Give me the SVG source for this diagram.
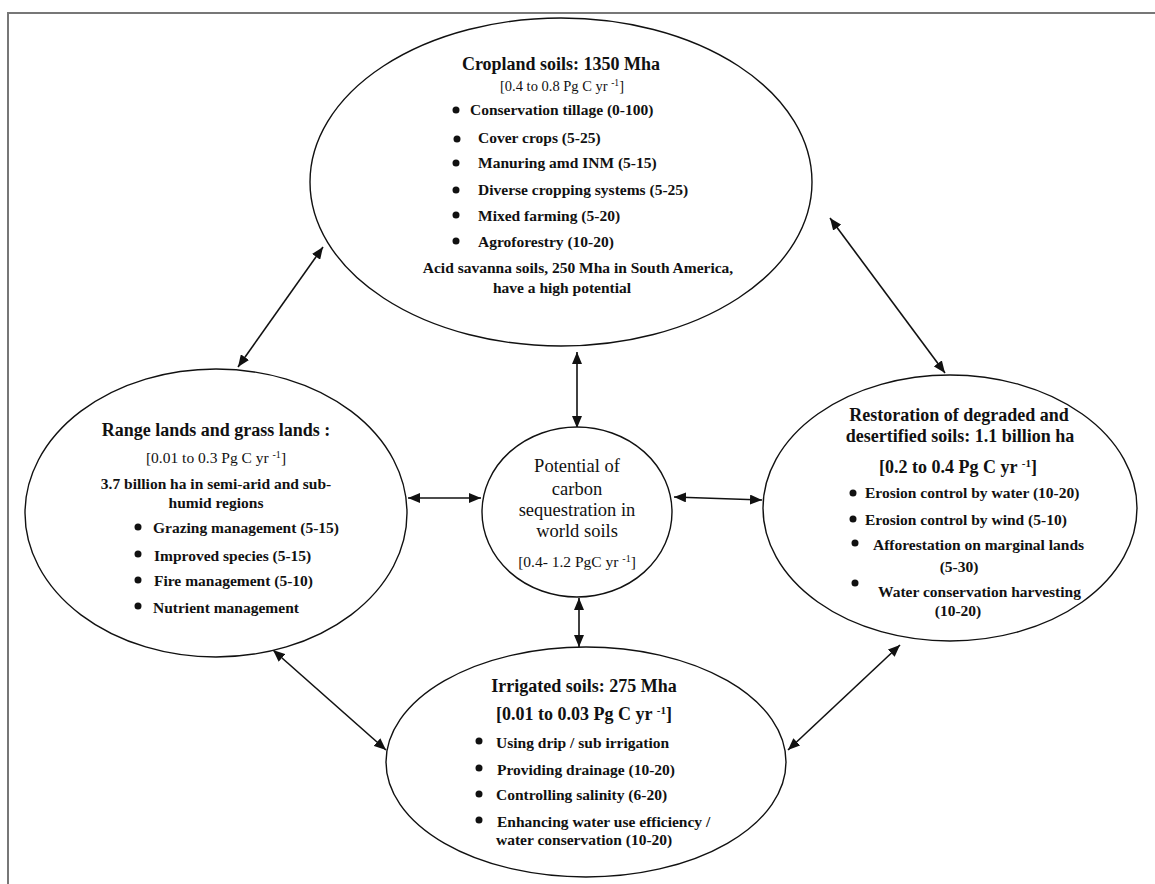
<svg xmlns="http://www.w3.org/2000/svg" width="1155" height="884" viewBox="0 0 1155 884">
<style>
.node{fill:#fff;stroke:#111;stroke-width:1.4}
.t{font-family:"Liberation Serif","Times New Roman",serif;fill:#111}
.b{font-weight:bold}
.h{font-size:18px;font-weight:bold}
.s{font-size:15.5px}
.c{text-anchor:middle}
.conn{stroke:#111;stroke-width:1.6;fill:none;marker-start:url(#ah);marker-end:url(#ah)}
.dot{fill:#111}
</style>
<defs>
<marker id="ah" viewBox="0 0 12 10" refX="12" refY="5" markerWidth="12" markerHeight="10" markerUnits="userSpaceOnUse" orient="auto-start-reverse">
<path d="M0,0 L12,5 L0,10 z" fill="#111"/>
</marker>
</defs>
<rect width="1155" height="884" fill="#fff"/>
<g id="frame" stroke="#777" stroke-width="2" fill="none">
<path d="M8,884 L8,13 L1155,13"/>
</g>

<g id="connectors">
<line class="conn" x1="323" y1="247" x2="238" y2="367"/>
<line class="conn" x1="830" y1="218" x2="945" y2="373"/>
<line class="conn" x1="577" y1="352" x2="577" y2="428"/>
<line class="conn" x1="408" y1="498" x2="481" y2="498"/>
<line class="conn" x1="674" y1="497" x2="762" y2="500"/>
<line class="conn" x1="579" y1="598" x2="579" y2="647"/>
<line class="conn" x1="273" y1="650" x2="386" y2="750"/>
<line class="conn" x1="788" y1="750" x2="900" y2="645"/>
</g>

<g id="cropland">
<ellipse class="node" cx="561" cy="182" rx="251" ry="164"/>
<text class="t h c" x="561" y="70">Cropland soils: 1350 Mha</text>
<text class="t c" font-size="14.5" x="562" y="91">[0.4 to 0.8 Pg C yr <tspan font-size="9.5" dy="-5">-1</tspan><tspan dy="5">]</tspan></text>
<g class="dot">
<circle cx="456" cy="110" r="3.5"/>
<circle cx="457" cy="139" r="3.5"/>
<circle cx="456" cy="163" r="3.5"/>
<circle cx="456" cy="190" r="3.5"/>
<circle cx="456" cy="215" r="3.5"/>
<circle cx="456" cy="241" r="3.5"/>
</g>
<text class="t s b" x="470" y="115">Conservation tillage (0-100)</text>
<text class="t s b" x="478" y="143">Cover crops (5-25)</text>
<text class="t s b" x="478" y="168">Manuring amd INM (5-15)</text>
<text class="t s b" x="478" y="195">Diverse cropping systems (5-25)</text>
<text class="t s b" x="478" y="221">Mixed farming (5-20)</text>
<text class="t s b" x="478" y="247">Agroforestry (10-20)</text>
<text class="t s b c" x="578" y="273">Acid savanna soils, 250 Mha in South America,</text>
<text class="t s b c" x="562" y="293">have a high potential</text>
</g>

<g id="rangelands">
<ellipse class="node" cx="216" cy="513" rx="191" ry="144"/>
<text class="t h c" x="216" y="436">Range lands and grass lands :</text>
<text class="t s c" x="216" y="463">[0.01 to 0.3 Pg C yr <tspan font-size="10" dy="-5">-1</tspan><tspan dy="5">]</tspan></text>
<text class="t s b c" x="216" y="489">3.7 billion ha in semi-arid and sub-</text>
<text class="t s b c" x="216" y="508">humid regions</text>
<g class="dot">
<circle cx="138" cy="527" r="3.5"/>
<circle cx="138" cy="554" r="3.5"/>
<circle cx="138" cy="580" r="3.5"/>
<circle cx="138" cy="606" r="3.5"/>
</g>
<text class="t s b" x="153" y="533">Grazing management (5-15)</text>
<text class="t s b" x="154" y="561">Improved species (5-15)</text>
<text class="t s b" x="154" y="586">Fire management (5-10)</text>
<text class="t s b" x="153" y="613">Nutrient management</text>
</g>

<g id="center">
<ellipse class="node" cx="577" cy="512" rx="95" ry="85"/>
<text class="t c" font-size="18.5" x="577" y="472">Potential of</text>
<text class="t c" font-size="18.5" x="577" y="495">carbon</text>
<text class="t c" font-size="18.5" x="577" y="516">sequestration in</text>
<text class="t c" font-size="18.5" x="577" y="537">world soils</text>
<text class="t c" font-size="15.5" x="577" y="567">[0.4- 1.2 PgC yr <tspan font-size="10" dy="-5">-1</tspan><tspan dy="5">]</tspan></text>
</g>

<g id="restoration">
<ellipse class="node" cx="950" cy="508" rx="187" ry="133"/>
<text class="t h c" x="959" y="421">Restoration of degraded and</text>
<text class="t h c" x="960" y="442">desertified soils: 1.1 billion ha</text>
<text class="t h c" x="958" y="473">[0.2 to 0.4 Pg C yr <tspan font-size="11" dy="-6">-1</tspan><tspan dy="6">]</tspan></text>
<g class="dot">
<circle cx="853" cy="493" r="3.5"/>
<circle cx="853" cy="519" r="3.5"/>
<circle cx="855" cy="543" r="3.5"/>
<circle cx="855" cy="583" r="3.5"/>
</g>
<text class="t s b" x="865" y="498">Erosion control by water (10-20)</text>
<text class="t s b" x="865" y="525">Erosion control by wind (5-10)</text>
<text class="t s b" x="873" y="550">Afforestation on marginal lands</text>
<text class="t s b c" x="959" y="572">(5-30)</text>
<text class="t s b" x="878" y="597">Water conservation harvesting</text>
<text class="t s b c" x="958" y="616">(10-20)</text>
</g>

<g id="irrigated">
<ellipse class="node" cx="586" cy="762" rx="200" ry="115"/>
<text class="t h c" x="584" y="692">Irrigated soils: 275 Mha</text>
<text class="t h c" x="584" y="720">[0.01 to 0.03 Pg C yr <tspan font-size="11" dy="-6">-1</tspan><tspan dy="6">]</tspan></text>
<g class="dot">
<circle cx="479" cy="741" r="3.5"/>
<circle cx="479" cy="768" r="3.5"/>
<circle cx="479" cy="794" r="3.5"/>
<circle cx="479" cy="820" r="3.5"/>
</g>
<text class="t s b" x="496" y="748">Using drip / sub irrigation</text>
<text class="t s b" x="497" y="775">Providing drainage (10-20)</text>
<text class="t s b" x="496" y="800">Controlling salinity (6-20)</text>
<text class="t s b" x="497" y="827">Enhancing water use efficiency /</text>
<text class="t s b" x="496" y="845">water conservation (10-20)</text>
</g>
</svg>
